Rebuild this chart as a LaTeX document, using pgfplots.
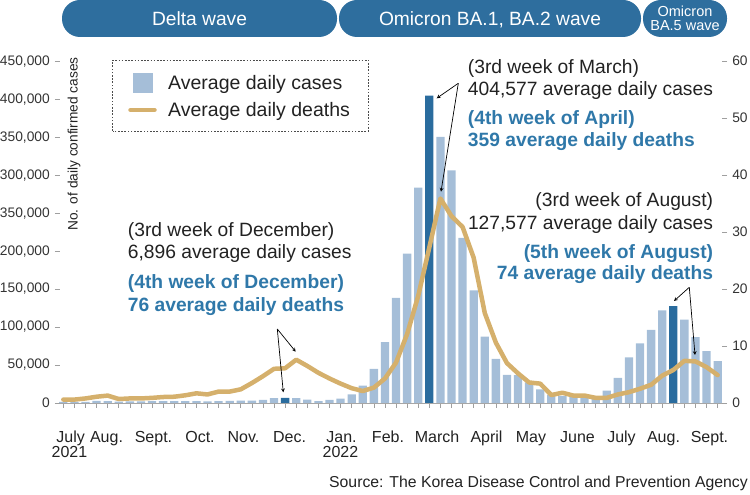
\documentclass[border=0pt]{standalone}
\usepackage{fontspec}
\setmainfont{Liberation Sans}
\usepackage{pgfplots}
\pgfplotsset{compat=1.18}
\usepackage{pgfplotstable}

\definecolor{barlight}{HTML}{A5BED8}
\definecolor{bardark}{HTML}{2A6C9E}
\definecolor{banner}{HTML}{2E6E9E}
\definecolor{deathline}{HTML}{D5B06C}
\definecolor{annblue}{HTML}{2F78A9}
\definecolor{txt}{HTML}{222222}
\definecolor{ticktxt}{HTML}{333333}

\newcommand{\fs}[1]{\fontsize{#1}{#1}\selectfont}

% weekly average daily confirmed cases (index = week)
\pgfplotstableread{
k cases
0 1500
1 1400
2 1600
3 2800
4 2600
5 1900
6 2000
7 2100
8 2300
9 2600
10 2500
11 2400
12 2300
13 2200
14 2600
15 2900
16 3000
17 3100
18 4000
19 6500
21 6400
22 4300
23 2500
24 4200
25 5600
26 11400
27 23000
28 45000
29 80000
30 138500
31 196500
32 283700
34 350200
35 306200
36 217400
37 148400
38 87300
39 58000
40 37000
41 36800
42 27000
43 18000
44 11000
45 9500
46 8000
47 7200
48 6300
49 16300
50 33000
51 60000
52 78500
53 96200
54 122000
56 109800
57 86800
58 68300
59 55000
}\casestable

\pgfplotstableread{
k cases
20 6896
33 404577
55 127577
}\peaktable

% weekly average daily deaths (right axis units)
\pgfplotstableread{
k deaths
0 0.6
1 0.6
2 0.8
3 1.1
4 1.3
5 0.7
6 0.8
7 0.8
8 0.9
9 1.05
10 1.1
11 1.35
12 1.7
13 1.5
14 2.0
15 2.0
16 2.4
17 3.5
18 4.7
19 6.0
20 6.1
21 7.6
22 6.5
23 5.3
24 4.3
25 3.4
26 2.6
27 2.1
28 2.7
29 4.3
30 7.1
31 12.1
32 18.8
33 27.3
34 35.9
35 32.8
36 30.9
37 25.5
38 15.8
39 10.6
40 7.0
41 5.2
42 3.6
43 3.4
44 1.4
45 1.8
46 1.3
47 1.3
48 0.9
49 0.9
50 1.5
51 1.9
52 2.5
53 3.2
54 4.8
55 5.8
56 7.4
57 7.3
58 6.3
59 4.9
}\deathstable

\begin{document}
\begin{tikzpicture}[x=1pt,y=1pt]

% ---------- left axis: cases ----------
\begin{axis}[
  at={(60pt,92pt)}, anchor=south west,
  scale only axis, width=662.1pt, height=341.8pt,
  xmin=-0.3, xmax=59.4, ymin=0, ymax=450000,
  axis x line*=bottom, axis y line*=left,
  x axis line style={draw=gray!70, line width=0.8pt, -},
  y axis line style={draw=none},
  xtick={0,...,59}, xticklabels={},
  tick align=outside, major tick length=5pt,
  every tick/.style={gray!75, line width=0.7pt},
  ytick={0,50000,100000,150000,200000,250000,300000,350000,400000,450000},
  yticklabels={0,{50,000},{100,000},{150,000},{200,000},{350,000},{300,000},{350,000},{400,000},{450,000}},
  yticklabel style={font=\fs{13.8}, text=ticktxt, anchor=east, inner sep=0pt, xshift=-5pt},
  scaled y ticks=false,
  /pgf/number format/assume math mode=true,
  clip=false,
]
\addplot[ybar, bar width=8.3pt, bar shift=0pt, fill=barlight, draw=none] table[x=k,y=cases]{\casestable};
\addplot[ybar, bar width=8.3pt, bar shift=0pt, fill=bardark, draw=none] table[x=k,y=cases]{\peaktable};
\end{axis}

% ---------- right axis: deaths ----------
\begin{axis}[
  at={(60pt,92pt)}, anchor=south west,
  scale only axis, width=662.1pt, height=341.8pt,
  xmin=-0.3, xmax=59.4, ymin=0, ymax=60,
  axis x line=none, axis y line*=right,
  y axis line style={draw=none},
  ytick={0,10,...,60},
  tick align=outside, major tick length=5pt,
  every tick/.style={gray!75, line width=0.7pt},
  yticklabel style={font=\fs{13.8}, text=ticktxt, anchor=west, inner sep=0pt, xshift=5pt},
  /pgf/number format/assume math mode=true,
  clip=false,
]
\addplot[deathline, line width=4.5pt, line join=round, line cap=round] table[x=k,y=deaths]{\deathstable};
\end{axis}

% ---------- y label ----------
\node[rotate=90, anchor=east, inner sep=0pt, font=\fs{13.7}, text=txt] at (74,438) {No. of daily confirmed cases};

% ---------- month labels ----------
\begin{scope}[every node/.style={anchor=base, inner sep=0pt, font=\fs{16}, text=txt}]
\node at (70.7,52) {July};
\node at (106.5,52) {Aug.};
\node at (153.5,52) {Sept.};
\node at (200,52) {Oct.};
\node at (243.5,52) {Nov.};
\node at (289.5,52) {Dec.};
\node at (341.5,52) {Jan.};
\node at (388,52) {Feb.};
\node at (437,52) {March};
\node at (486.5,52) {April};
\node at (531,52) {May};
\node at (577.5,52) {June};
\node at (621.5,52) {July};
\node at (663.5,52) {Aug.};
\node at (709.5,52) {Sept.};
\node at (69.5,37) {2021};
\node at (340.5,37) {2022};
\end{scope}

% ---------- source ----------
\node[anchor=base east, inner sep=0pt, font=\fs{15.8}, text=txt] at (748,7) {Source: The Korea Disease Control and Prevention Agency};

% ---------- legend ----------
\draw[gray!60!black, line width=0.7pt, dash pattern=on 1.6pt off 1.6pt] (112.7,364) rectangle (368.3,435);
\fill[barlight] (132.7,402.3) rectangle (152.7,421.7);
\draw[deathline, line width=4.5pt, line cap=round] (130.5,385) -- (154.5,385);
\node[anchor=base west, inner sep=0pt, font=\fs{19.5}, text=txt] at (168,405) {Average daily cases};
\node[anchor=base west, inner sep=0pt, font=\fs{19.5}, text=txt] at (168,378.3) {Average daily deaths};

% ---------- annotations ----------
\begin{scope}[every node/.style={inner sep=0pt, font=\fs{19.25}, text=txt}]
\node[anchor=base west] at (127.7,258.3) {(3rd week of December)};
\node[anchor=base west] at (127.7,236.7) {6,896 average daily cases};
\node[anchor=base west, text=annblue, font=\fs{19.25}\bfseries] at (127.7,206) {(4th week of December)};
\node[anchor=base west, text=annblue, font=\fs{19.25}\bfseries] at (127.7,183.7) {76 average daily deaths};

\node[anchor=base west] at (467.7,421.7) {(3rd week of March)};
\node[anchor=base west] at (467.7,399) {404,577 average daily cases};
\node[anchor=base west, text=annblue, font=\fs{19.25}\bfseries] at (467.7,370) {(4th week of April)};
\node[anchor=base west, text=annblue, font=\fs{19.25}\bfseries] at (467.7,348.3) {359 average daily deaths};

\node[anchor=base east] at (713.3,288.3) {(3rd week of August)};
\node[anchor=base east] at (713.3,265.7) {127,577 average daily cases};
\node[anchor=base east, text=annblue, font=\fs{19.25}\bfseries] at (713.3,236.7) {(5th week of August)};
\node[anchor=base east, text=annblue, font=\fs{19.25}\bfseries] at (713.3,215) {74 average daily deaths};
\end{scope}

% ---------- arrows ----------
\begin{scope}[black, line width=0.7pt, -stealth]
\draw (277.3,166) -- (283.3,102.7);
\draw (277.3,166) -- (295.7,143.3);
\draw (458.3,411.7) -- (436.7,396.7);
\draw (458.3,411.7) -- (441,303.3);
\draw (689.3,207.7) -- (674,194);
\draw (689.3,207.7) -- (695,140);
\end{scope}

% ---------- wave banners ----------
\fill[banner, rounded corners=18pt] (62,458) rectangle (337,495);
\fill[banner, rounded corners=18pt] (339,458) rectangle (641,495);
\fill[banner, rounded corners=18pt] (643,458) rectangle (727,495);
\node[anchor=base, inner sep=0pt, white, font=\fs{19.2}] at (199.5,469.6) {Delta wave};
\node[anchor=base, inner sep=0pt, white, font=\fs{19.2}] at (490,469.6) {Omicron BA.1, BA.2 wave};
\node[inner sep=0pt, white, align=center, font=\fontsize{14.5}{14}\selectfont] at (685,476.5) {Omicron\\BA.5 wave};

% ---------- page size ----------
\pgfresetboundingbox
\useasboundingbox (0,0) rectangle (750,495);
\end{tikzpicture}
\end{document}
